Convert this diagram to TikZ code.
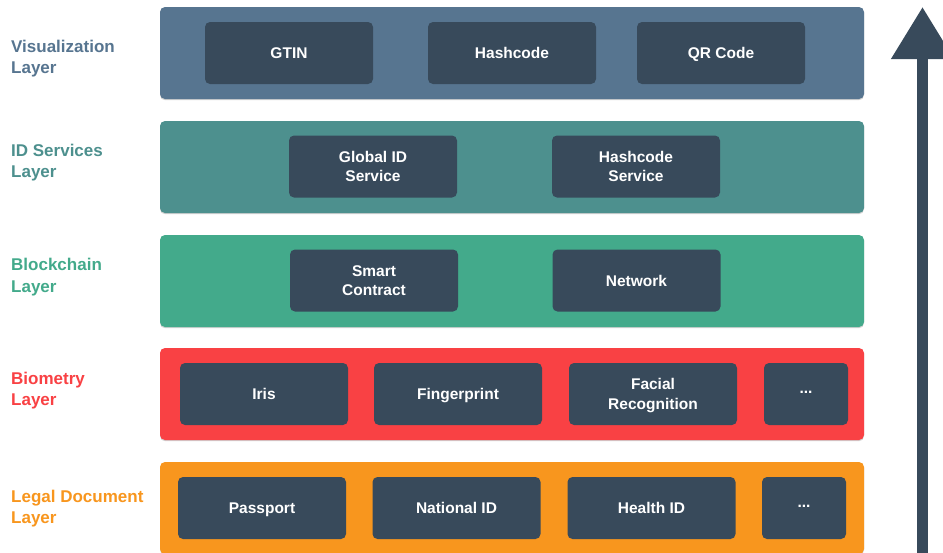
\documentclass[tikz,border=0pt]{standalone}
\usepackage{fontspec}
\setmainfont{Liberation Sans}
\usetikzlibrary{arrows.meta,shadows}
\definecolor{visblue}{HTML}{577590}
\definecolor{idteal}{HTML}{4D908E}
\definecolor{chaingreen}{HTML}{43AA8B}
\definecolor{biored}{HTML}{F94144}
\definecolor{legalorange}{HTML}{F8961E}
\definecolor{slate}{HTML}{384A5B}
% centred ellipsis for the "more" boxes
\newcommand{\moredots}{\raisebox{6.5pt}{...}}
\begin{document}
\begin{tikzpicture}[x=1pt,y=-1pt,
  band/.style={rounded corners=5pt, minimum width=704pt, minimum height=92pt,
    inner sep=0pt, draw=none,
    drop shadow={shadow xshift=0pt, shadow yshift=-1.2pt, fill=black, opacity=0.18}},
  item/.style={rounded corners=5pt, fill=slate, minimum width=168pt, minimum height=62pt,
    inner sep=0pt, text=white, align=center, text height=11.1pt, text depth=0pt,
    font=\bfseries\fontsize{15.5}{19.5}\selectfont},
  twoline/.style={text height=30.6pt},
  small/.style={item, minimum width=84pt},
  layerlabel/.style={anchor=west, align=left, inner sep=0pt,
    text height=33.7pt, text depth=0pt,
    font=\bfseries\fontsize{17}{21.5}\selectfont}]
\useasboundingbox (0,0) rectangle (943,552);
\fill[white] (0,0) rectangle (943,552);

% layer bands
\node[band, fill=visblue]     (visband)   at (512,53)  {};
\node[band, fill=idteal]      (idband)    at (512,167) {};
\node[band, fill=chaingreen]  (bcband)    at (512,281) {};
\node[band, fill=biored]      (bioband)   at (512,394) {};
\node[band, fill=legalorange] (legalband) at (512,508) {};

% layer names
\node[layerlabel, text=visblue]     (vislabel)   at (11,57)    {Visualization\\Layer};
\node[layerlabel, text=idteal]      (idlabel)    at (11,161)   {ID Services\\Layer};
\node[layerlabel, text=chaingreen]  (bclabel)    at (11,275.5) {Blockchain\\Layer};
\node[layerlabel, text=biored]      (biolabel)   at (11,389)   {Biometry\\Layer};
\node[layerlabel, text=legalorange] (legallabel) at (11,507)   {Legal Document\\Layer};

% visualization layer
\node[item] (gtin)     at (289,53) {GTIN};
\node[item] (hashcode) at (512,53) {Hashcode};
\node[item] (qrcode)   at (721,53) {QR Code};

% ID services layer
\node[item, twoline] (globalid)    at (373,166.5) {Global ID\\Service};
\node[item, twoline] (hashservice) at (636,166.5) {Hashcode\\Service};

% blockchain layer
\node[item, twoline] (contract) at (374,280.5)   {Smart\\Contract};
\node[item]          (network)  at (636.5,280.5) {Network};

% biometry layer
\node[item]          (iris)        at (264,394) {Iris};
\node[item]          (fingerprint) at (458,394) {Fingerprint};
\node[item, twoline] (facial)      at (653,394) {Facial\\Recognition};
\node[small]         (biomore)     at (806,394) {\moredots};

% legal document layer
\node[item]  (passport)   at (262,508)   {Passport};
\node[item]  (nationalid) at (456.5,508) {National ID};
\node[item]  (healthid)   at (651.5,508) {Health ID};
\node[small] (legalmore)  at (804,508)   {\moredots};

% upward arrow
\coordinate (arrowfoot) at (922.5,560);
\coordinate (arrowtip)  at (922.5,7);
\draw[slate, line width=11pt, -{Triangle[length=52pt,width=60pt]}] (arrowfoot) -- (arrowtip);
\end{tikzpicture}
\end{document}
